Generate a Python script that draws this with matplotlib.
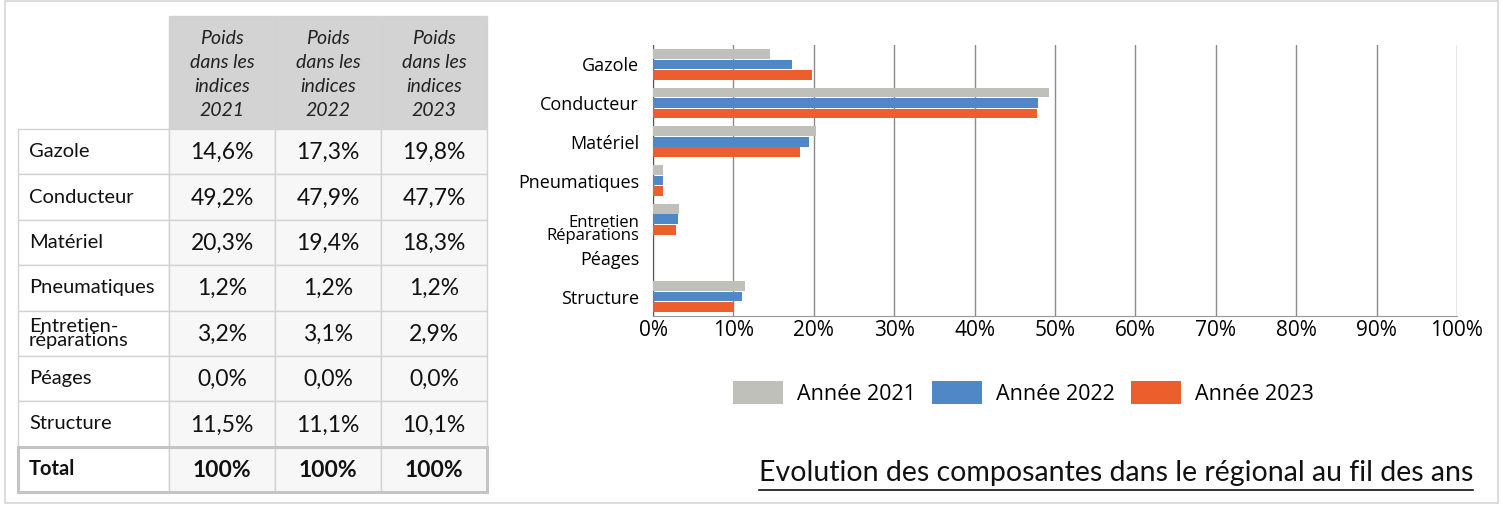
import numpy as np
import matplotlib
matplotlib.use('Agg')
import matplotlib.pyplot as plt
from matplotlib.patches import Rectangle
from matplotlib.transforms import ScaledTranslation

# data
categories = ['Gazole', 'Conducteur', 'Matériel', 'Pneumatiques',
              'Entretien\nRéparations', 'Péages', 'Structure']
table_labels = ['Gazole', 'Conducteur', 'Matériel', 'Pneumatiques',
                'Entretien-\nréparations', 'Péages', 'Structure']
years = ['2021', '2022', '2023']
v2021 = [14.6, 49.2, 20.3, 1.2, 3.2, 0.0, 11.5]
v2022 = [17.3, 47.9, 19.4, 1.2, 3.1, 0.0, 11.1]
v2023 = [19.8, 47.7, 18.3, 1.2, 2.9, 0.0, 10.1]
totals = ['100%', '100%', '100%']
legend_labels = ['Année 2021', 'Année 2022', 'Année 2023']
colors = ['#c0c0ba', '#5087c7', '#ec5f2d']
title = 'Evolution des composantes dans le régional au fil des ans'

W, H = 1501, 505
fig = plt.figure(figsize=(W/100, H/100), dpi=100)

# background axes in pixel units for the table and frame
bg = fig.add_axes([0, 0, 1, 1])
bg.set_xlim(0, W)
bg.set_ylim(H, 0)
bg.axis('off')
bg.add_patch(Rectangle((5, 1), W-8, H-3, fill=False, ec='#d6d6d6', lw=1.2))

tfont = 'Lato'
col_x = [169, 275, 381, 487]
lab_x0 = 18
top_h, top_row = 16, 129
row_h = (492 - 129) / 8
grid_c = '#d2d2d2'

def fmt(v):
    return ('%.1f%%' % v).replace('.', ',')

# header cells
for j, y in enumerate(years):
    x0, x1 = col_x[j], col_x[j+1]
    bg.add_patch(Rectangle((x0, top_h), x1-x0, top_row-top_h, fc='#d3d3d3', ec=grid_c, lw=1))
    bg.text((x0+x1)/2, (top_h+top_row)/2 + 2, 'Poids\ndans les\nindices\n' + y,
            ha='center', va='center', fontsize=14, style='italic', family=tfont,
            linespacing=1.5, color='#222222')

series = [v2021, v2022, v2023]
n = len(table_labels)
for i in range(n + 1):
    y0 = top_row + i*row_h
    yc = y0 + row_h/2
    is_total = i == n
    bg.add_patch(Rectangle((lab_x0, y0), col_x[0]-lab_x0, row_h, fc='white', ec=grid_c, lw=1))
    lab = 'Total' if is_total else table_labels[i]
    bg.text(lab_x0 + 11, yc, lab, ha='left', va='center', fontsize=14.5, family=tfont,
            linespacing=0.78, weight='bold' if is_total else 'normal', color='#111111')
    for j in range(3):
        x0, x1 = col_x[j], col_x[j+1]
        bg.add_patch(Rectangle((x0, y0), x1-x0, row_h, fc='#f7f7f7', ec=grid_c, lw=1))
        txt = totals[j] if is_total else fmt(series[j][i])
        bg.text((x0+x1)/2, yc + 1, txt, ha='center', va='center', fontsize=16.5, family=tfont,
                weight='bold' if is_total else 'normal', color='#111111')
# thicker frame on the total row
bg.add_patch(Rectangle((lab_x0, top_row + n*row_h), col_x[-1]-lab_x0, row_h,
                       fill=False, ec='#c4c4c4', lw=2.2))

# bar chart
cfont = 'Open Sans'
ax = fig.add_axes([653/W, 1-316/H, (1457-653)/W, (316-45)/H])
y = np.arange(len(categories))
offs = [-0.27, 0.0, 0.27]
bars = []
for s, o, c, l in zip(series, offs, colors, legend_labels):
    bars.append(ax.barh(y + o, s, height=0.25, color=c, label=l, zorder=3))
ax.set_xlim(0, 100)
ax.set_ylim(len(categories)-0.5, -0.5)
ax.set_xticks(np.arange(0, 101, 10))
ax.set_xticklabels(['%d%%' % t for t in range(0, 101, 10)], family=cfont, fontsize=15)
ax.set_yticks(y)
ax.set_yticklabels(categories, family=cfont, fontsize=13)
ax.tick_params(length=0, pad=10)
ax.tick_params(axis='x', pad=3)
for lbl in ax.get_yticklabels():
    if '\n' in lbl.get_text():
        lbl.set_fontsize(12)
        lbl.set_linespacing(0.72)
        lbl.set_transform(lbl.get_transform() + ScaledTranslation(0, -0.1, fig.dpi_scale_trans))
ax.grid(axis='x', color='#8a8a8a', lw=1, zorder=0)
for sp in ['top', 'right']:
    ax.spines[sp].set_visible(False)
ax.spines['left'].set_color('#555555')
ax.spines['bottom'].set_color('#999999')

# legend
leg = fig.legend(handles=bars, labels=legend_labels, loc='center left',
                 bbox_to_anchor=(733/W, 1-393/H), ncol=3, frameon=False,
                 prop={'family': cfont, 'size': 15.5}, handlelength=2.33, handleheight=1.25,
                 handletextpad=0.65, columnspacing=0.75, borderpad=0, borderaxespad=0)

# underlined caption
t = bg.text(1473, 481, title, ha='right', va='baseline', fontsize=20.5, family=tfont, color='#111111')
fig.canvas.draw()
bb = t.get_window_extent()
ul_y = H - bb.y0 + 4
bg.plot([bb.x0, bb.x1], [ul_y, ul_y], color='#111111', lw=1.2)

fig.savefig('out.png', dpi=100)
